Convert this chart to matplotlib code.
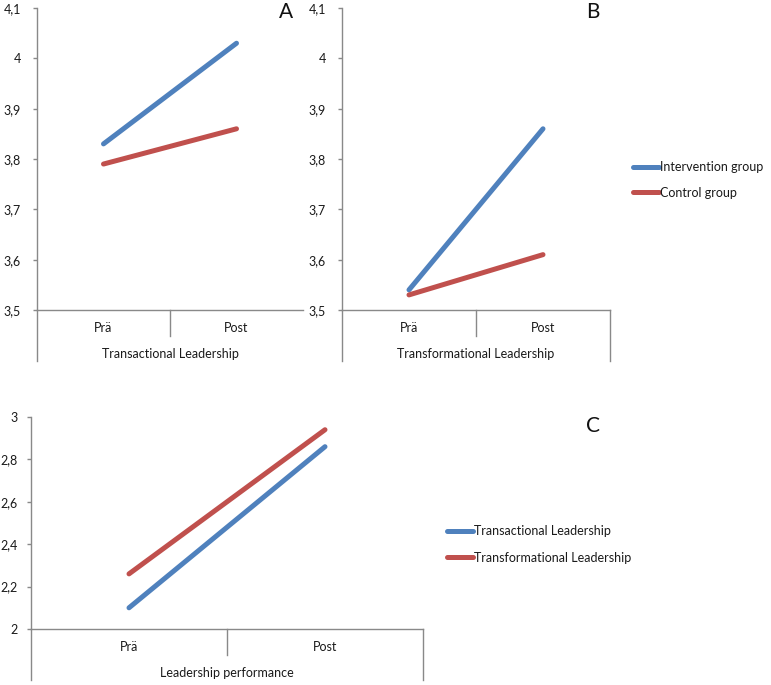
import matplotlib
matplotlib.use("Agg")
import matplotlib.pyplot as plt
from matplotlib.transforms import blended_transform_factory

plt.rcParams['font.family'] = ['Lato', 'DejaVu Sans']

categories = ["Prä", "Post"]

# Panel A: Transactional Leadership
a_intervention = [3.83, 4.03]
a_control = [3.79, 3.86]
# Panel B: Transformational Leadership
b_intervention = [3.54, 3.86]
b_control = [3.53, 3.61]
# Panel C: Leadership performance
c_transactional = [2.10, 2.86]
c_transformational = [2.26, 2.94]

ab_yticks = [3.5, 3.6, 3.7, 3.8, 3.9, 4.0, 4.1]
ab_yticklabels = ["3,5", "3,6", "3,7", "3,8", "3,9", "4", "4,1"]
c_yticks = [2.0, 2.2, 2.4, 2.6, 2.8, 3.0]
c_yticklabels = ["2", "2,2", "2,4", "2,6", "2,8", "3"]

BLUE = "#4F81BD"
RED = "#C0504D"
GRAY = "#898989"
TXT = "#1a1a1a"
W, H = 771, 685
DPI = 100

fig = plt.figure(figsize=(W / DPI, H / DPI), dpi=DPI)

def px_axes(left, right, top, bottom):
    return fig.add_axes([left / W, (H - bottom) / H, (right - left) / W, (bottom - top) / H])

FS = 9
PT = 72 / DPI

def setup(ax, yticks, ylabels, ylim, xlabel, h_px, right_line, pad):
    ax.set_xlim(0, 2)
    ax.set_ylim(*ylim)
    ax.set_yticks(yticks)
    ax.set_yticklabels(ylabels, fontsize=FS, color=TXT)
    ax.set_xticks([])
    for s in ["top", "right"]:
        ax.spines[s].set_visible(False)
    for s in ["left", "bottom"]:
        ax.spines[s].set_color(GRAY)
        ax.spines[s].set_linewidth(1.0)
    ax.tick_params(axis="y", length=3, width=1.0, color=GRAY, pad=pad)
    tr = blended_transform_factory(ax.transData, ax.transAxes)
    long_ = 51 / h_px
    short_ = 26 / h_px
    ax.plot([0, 0], [0, -long_], color=GRAY, lw=1.0, transform=tr, clip_on=False)
    ax.plot([1, 1], [0, -short_], color=GRAY, lw=1.0, transform=tr, clip_on=False)
    if right_line:
        ax.plot([2, 2], [0, -long_], color=GRAY, lw=1.0, transform=tr, clip_on=False)
    for i, c in enumerate(categories):
        ax.annotate(c, xy=(i + 0.5, 0), xycoords=tr, xytext=(0, -18 * PT),
                    textcoords="offset points", ha="center", va="center",
                    fontsize=FS, color=TXT)
    ax.annotate(xlabel, xy=(1, 0), xycoords=tr, xytext=(0, -44 * PT),
                textcoords="offset points", ha="center", va="center",
                fontsize=FS, color=TXT)

xpos = [0.5, 1.5]
LW = 3.6

# Panel A
axA = px_axes(37, 303, 8, 310)
axA.plot(xpos, a_intervention, color=BLUE, lw=LW, solid_capstyle="round", label="Intervention group")
axA.plot(xpos, a_control, color=RED, lw=LW, solid_capstyle="round", label="Control group")
setup(axA, ab_yticks, ab_yticklabels, (3.5, 4.1), "Transactional Leadership", 302, False, 8.5)

# Panel B
axB = px_axes(342, 610, 8, 310)
lb1, = axB.plot(xpos, b_intervention, color=BLUE, lw=LW, solid_capstyle="round", label="Intervention group")
lb2, = axB.plot(xpos, b_control, color=RED, lw=LW, solid_capstyle="round", label="Control group")
setup(axB, ab_yticks, ab_yticklabels, (3.5, 4.1), "Transformational Leadership", 302, True, 8.5)

# Panel C
axC = px_axes(31, 423, 417, 629)
lc1, = axC.plot(xpos, c_transactional, color=BLUE, lw=LW, solid_capstyle="round", label="Transactional Leadership")
lc2, = axC.plot(xpos, c_transformational, color=RED, lw=LW, solid_capstyle="round", label="Transformational Leadership")
setup(axC, c_yticks, c_yticklabels, (2.0, 3.0), "Leadership performance", 212, True, 6.5)

# Legends
def legend_at(ax, handles, x_px, y_center_px, spacing):
    leg = ax.legend(handles=handles, loc="center left",
                    bbox_to_anchor=(x_px / W, (H - y_center_px) / H),
                    bbox_transform=fig.transFigure, frameon=False,
                    fontsize=FS, handlelength=2.1, handletextpad=0.05,
                    labelspacing=spacing, borderpad=0, borderaxespad=0)
    for t in leg.get_texts():
        t.set_color(TXT)
    return leg

legend_at(axB, [lb1, lb2], 633, 180, 1.05)
legend_at(axC, [lc1, lc2], 447, 544.5, 1.15)

# Panel letters
fig.text(286 / W, (H - 12) / H, "A", fontsize=15, ha="center", va="center", color="#111111")
fig.text(593 / W, (H - 12) / H, "B", fontsize=15, ha="center", va="center", color="#111111")
fig.text(593 / W, (H - 426) / H, "C", fontsize=15, ha="center", va="center", color="#111111")

fig.savefig("out.png", dpi=DPI, facecolor="white")
